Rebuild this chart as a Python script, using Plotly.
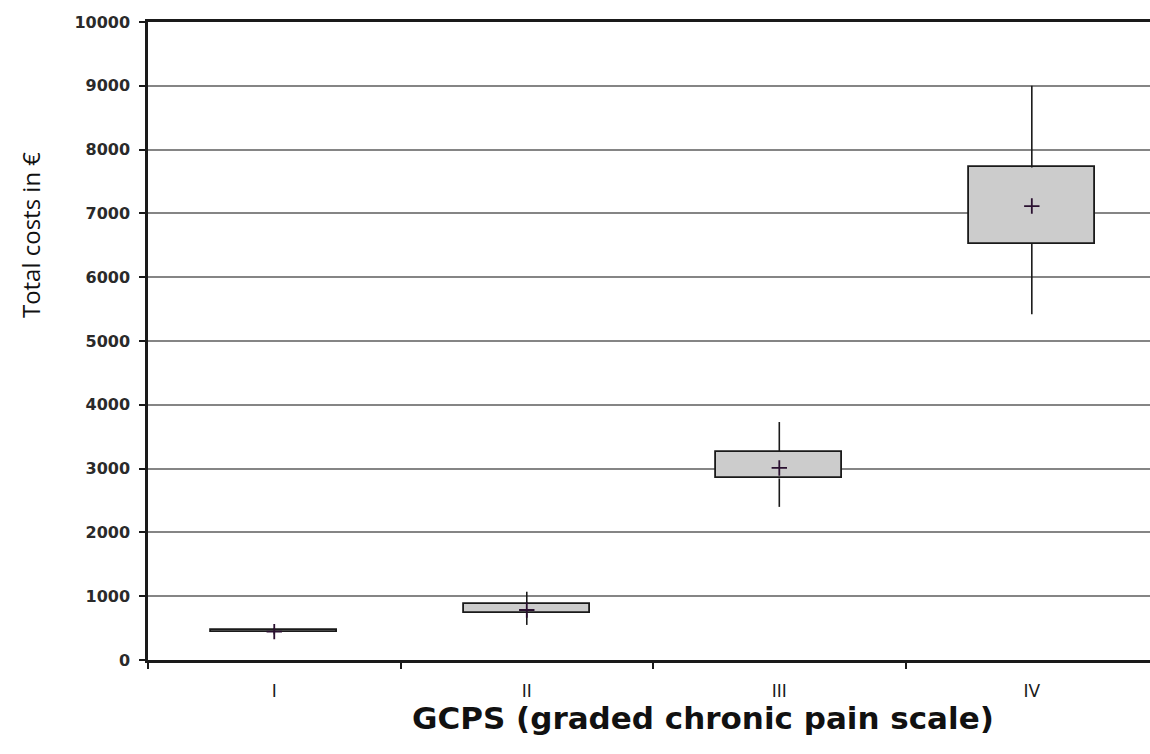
import plotly.graph_objects as go

categories = ["I", "II", "III", "IV"]
q1 = [440, 732, 2845, 6525]
q3 = [470, 878, 3260, 7720]
mean = [445, 784, 3010, 7115]
lower = [400, 550, 2400, 5420]
upper = [500, 1070, 3730, 9000]

y_ticks = list(range(0, 10001, 1000))
y_ticktext = [str(v) for v in y_ticks]

fig = go.Figure()

# whiskers (from box edges outward)
wx, wy = [], []
for c, lo, a, b, hi in zip(categories, lower, q1, q3, upper):
    wx += [c, c, None, c, c, None]
    wy += [lo, a, None, b, hi, None]
fig.add_trace(go.Scatter(x=wx, y=wy, mode="lines",
                         line=dict(color="#1a1a1a", width=1.6),
                         hoverinfo="skip", showlegend=False))

# boxes
fig.add_trace(go.Bar(x=categories, base=q1,
                     y=[b - a for a, b in zip(q1, q3)],
                     width=0.5,
                     marker=dict(color="#cccccc", line=dict(color="#1a1a1a", width=1.8)),
                     showlegend=False))

# mean markers
fig.add_trace(go.Scatter(x=categories, y=mean, mode="markers",
                         marker=dict(symbol="cross-thin", size=11,
                                     line=dict(color="#2a1030", width=1.8)),
                         showlegend=False))

fig.update_layout(
    width=1150, height=754,
    margin=dict(l=148, r=0, t=22, b=94),
    paper_bgcolor="white", plot_bgcolor="white",
    bargap=0,
    font=dict(family="DejaVu Sans", color="#1a1a1a"),
    annotations=[
        dict(text="<b>GCPS (graded chronic pain scale)</b>",
             xref="paper", yref="paper", x=0.554, y=0, yshift=-58,
             xanchor="center", yanchor="middle", showarrow=False,
             font=dict(family="DejaVu Sans", size=31, color="#111")),
        dict(text="Total costs in €",
             xref="paper", yref="paper", x=0, xshift=-118, y=0.666,
             xanchor="center", yanchor="middle", showarrow=False, textangle=-90,
             font=dict(family="Open Sans", size=24, color="#111")),
    ],
)

fig.update_xaxes(
    type="category", categoryorder="array", categoryarray=categories,
    range=[-0.5, 3.468], automargin=False,
    showline=True, linecolor="#1a1a1a", linewidth=2.5, mirror=True,
    ticks="outside", tickson="boundaries", ticklen=6, tickwidth=1.5, tickcolor="#1a1a1a",
    tickfont=dict(family="DejaVu Sans", size=17, color="#1a1a1a"),
    ticklabelstandoff=14,
    showgrid=False,
)

fig.update_yaxes(
    range=[0, 10000], tickvals=y_ticks, ticktext=y_ticktext, automargin=False,
    showline=True, linecolor="#1a1a1a", linewidth=2.5,
    ticks="outside", ticklen=6, tickwidth=1.5, tickcolor="#1a1a1a",
    tickfont=dict(family="DejaVu Sans", size=16, weight="bold", color="#2a2a2a"),
    ticklabelstandoff=6,
    showgrid=True, gridcolor="#858585", gridwidth=1.8,
    zeroline=False,
)

fig.write_html("out.html", config={"displayModeBar": False},
               post_script="document.body.style.margin='0';document.body.style.overflow='hidden';")
